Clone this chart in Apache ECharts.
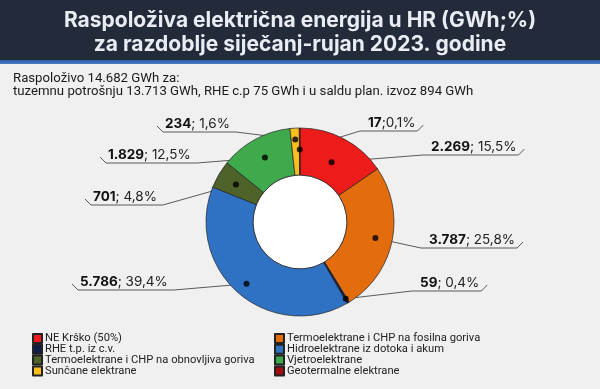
<!DOCTYPE html>
<html><head><meta charset="utf-8">
<script src="https://cdn.jsdelivr.net/npm/echarts@6/dist/echarts.min.js"></script>
<style>html,body{margin:0;padding:0;background:#f0f0f0}#c{width:600px;height:389px}</style>
</head><body><div id="c"></div>
<script>
// ---- data ----
const categories = ['NE Krško (50%)', 'Termoelektrane i CHP na fosilna goriva', 'RHE t.p. iz c.v.', 'Hidroelektrane iz dotoka i akum', 'Termoelektrane i CHP na obnovljiva goriva', 'Vjetroelektrane', 'Sunčane elektrane', 'Geotermalne elektrane'];
const values = [2269, 3787, 59, 5786, 701, 1829, 234, 17];
const labelSeps = ['; ', '; ', '; ', '; ', '; ', '; ', '; ', ';'];
const titleLines = ['Raspoloživa električna energija u HR (GWh;%)', 'za razdoblje siječanj-rujan 2023. godine'];
const subtitleLines = ['Raspoloživo 14.682 GWh za:', 'tuzemnu potrošnju 13.713 GWh, RHE c.p 75 GWh i u saldu plan. izvoz 894 GWh'];
const legendLeftIdx = [0, 2, 4, 6];
const legendRightIdx = [1, 3, 5, 7];

// ---- style / layout ----
const colors = ['#ee1b1b', '#e36d0c', '#0f1d4a', '#2f72c4', '#4e6329', '#3faa4b', '#f8bf1e', '#a30d0d'];
const CX = 300, CY = 222, R = 94, R0 = 47;
const labelPos = [[431, 147], [429, 240], [420, 283], [80, 282], [93, 197], [108, 155], [165, 124], [368, 123]];
const labelSide = ['r', 'r', 'r', 'l', 'l', 'l', 'l', 'r'];
const dotR = [0.72, 0.82, 0.95, 0.87, 0.79, 0.78, 0.88, 0.77];

const total = values.reduce((a, b) => a + b, 0);
const fmtNum = v => String(v).replace(/\B(?=(\d{3})+(?!\d))/g, '.');
const fmtPct = v => (v / total * 100).toFixed(1).replace('.', ',');
let cum = 0;
const midVals = values.map(v => { const m = cum + v / 2; cum += v; return m; });

const legendBase = {
  orient: 'vertical', top: 333, bottom: 0, padding: 0, itemWidth: 9, itemHeight: 9, itemGap: -0.2, icon: 'rect',
  selectedMode: false,
  textStyle: {fontSize: 11.2, color: '#222', padding: [0, 0, 0, -2], fontFamily: 'Roboto'}
};

const chart = echarts.init(document.getElementById('c'), null, {renderer: 'canvas'});
chart.setOption({
  backgroundColor: '#f0f0f0',
  animation: false,
  color: colors,
  textStyle: {fontFamily: 'Inter'},
  graphic: [
    {type: 'rect', shape: {x: 0, y: 0, width: 600, height: 60}, style: {fill: '#232b3b'}, z: -1},
    {type: 'rect', shape: {x: 0, y: 60, width: 600, height: 4},
      style: {fill: new echarts.graphic.LinearGradient(0, 0, 0, 1, [{offset: 0, color: '#2d5aa3'}, {offset: 1, color: '#4c7ec6'}])}, z: -1}
  ],
  title: [
    {text: titleLines.join('\n'), left: 'center', top: 9, padding: 0,
      textStyle: {color: '#e9edf3', fontSize: 21, fontWeight: 'bold', lineHeight: 24, fontFamily: 'Inter', align: 'center'}},
    {text: subtitleLines.join('\n'), left: 13, top: 72, padding: 0,
      textStyle: {color: '#1a1a1a', fontSize: 13.2, fontWeight: 'normal', lineHeight: 13, fontFamily: 'Roboto'}}
  ],
  legend: [
    Object.assign({}, legendBase, {left: 32, data: legendLeftIdx.map(i => categories[i])}),
    Object.assign({}, legendBase, {left: 274, data: legendRightIdx.map(i => categories[i])})
  ],
  polar: {center: [CX, CY], radius: R},
  angleAxis: {type: 'value', min: 0, max: total, startAngle: 90, clockwise: true, show: false},
  radiusAxis: {type: 'value', min: 0, max: 1, show: false},
  series: [
    {
      type: 'pie', center: [CX, CY], radius: [0, R0], silent: true, z: 1,
      label: {show: false}, labelLine: {show: false},
      itemStyle: {color: '#ffffff', borderColor: '#222', borderWidth: 0.7},
      data: [{value: 1, name: '__hole'}]
    },
    {
      type: 'pie', center: [CX, CY], radius: [R0, R], startAngle: 90, clockwise: true,
      avoidLabelOverlap: false, z: 2,
      itemStyle: {borderColor: '#222', borderWidth: 0.7},
      emphasis: {disabled: true},
      data: categories.map((c, i) => ({name: c, value: values[i]})),
      label: {
        show: true, position: 'outside',
        formatter: p => '{b|' + fmtNum(p.value) + '}{n|' + labelSeps[p.dataIndex] + fmtPct(p.value) + '%}',
        rich: {
          b: {fontWeight: 'bold', fontSize: 13.5, color: '#111', fontFamily: 'Inter'},
          n: {fontSize: 13.5, color: '#222', fontFamily: 'Inter'}
        }
      },
      labelLine: {show: true, length: 5, length2: 5, lineStyle: {color: '#333', width: 0.8}},
      labelLayout: function (p) {
        const i = p.dataIndex;
        const lx = labelPos[i][0], ly = labelPos[i][1];
        const w = p.labelRect.width;
        const uy = ly + 8;
        let ang;
        if (p.labelLinePoints && p.labelLinePoints[0]) {
          const p0 = p.labelLinePoints[0];
          ang = Math.atan2(p0[1] - CY, p0[0] - CX);
        } else {
          ang = -Math.PI / 2 + midVals[i] / total * Math.PI * 2;
        }
        const dot = [CX + Math.cos(ang) * R * dotR[i], CY + Math.sin(ang) * R * dotR[i]];
        let pts;
        if (labelSide[i] === 'r') {
          pts = [dot, [lx - 8, uy], [lx + w + 2, uy], [lx + w + 8, uy - 6]];
        } else {
          pts = [dot, [lx + w + 6, uy], [lx - 2, uy], [lx - 8, uy - 6]];
        }
        return {x: lx, y: ly, align: 'left', verticalAlign: 'middle', labelLinePoints: pts};
      }
    },
    {
      type: 'scatter', coordinateSystem: 'polar', z: 5, silent: true,
      symbol: 'circle', symbolSize: 6, itemStyle: {color: '#000'},
      data: values.map((v, i) => [dotR[i], midVals[i]])
    }
  ]
});
</script>
</body></html>
